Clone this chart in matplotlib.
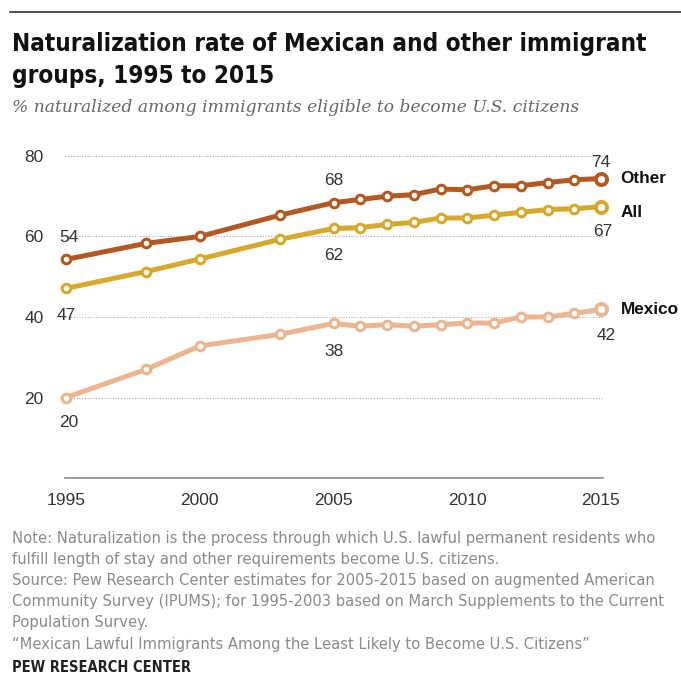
import matplotlib.pyplot as plt
from matplotlib.lines import Line2D

years = [1995, 1998, 2000, 2003, 2005, 2006, 2007, 2008, 2009, 2010, 2011, 2012, 2013, 2014, 2015]
other = [54.3, 58.3, 60.0, 65.3, 68.4, 69.2, 70.0, 70.4, 71.8, 71.6, 72.6, 72.6, 73.4, 74.1, 74.4]
all_groups = [47.1, 51.3, 54.4, 59.3, 62.0, 62.2, 63.0, 63.5, 64.6, 64.6, 65.3, 66.0, 66.7, 66.9, 67.4]
mexico = [20.0, 27.0, 32.8, 35.7, 38.4, 37.7, 38.1, 37.7, 38.1, 38.5, 38.5, 40.0, 40.0, 40.9, 41.9]

series_names = ["Other", "All", "Mexico"]
series_colors = ["#b3591f", "#d6a92c", "#ebb58f"]
y_ticks = [20, 40, 60, 80]
x_ticks = [1995, 2000, 2005, 2010, 2015]

W, H = 681, 677
fig = plt.figure(figsize=(W / 100, H / 100), dpi=100)

# axes in pixel coords: left 66, right 601, y=0 at 478, y=80 at 156
ax = fig.add_axes([66 / W, 1 - 478 / H, (601 - 66) / W, (478 - 156) / H])
ax.set_xlim(1995, 2015)
ax.set_ylim(0, 80)

for vals, col in zip([other, all_groups, mexico], series_colors):
    ax.plot(years, vals, color=col, lw=3.6, solid_capstyle="round", zorder=3, clip_on=False)
    ax.plot(years[:-1], vals[:-1], ls="none", marker="o", ms=6.2, mfc="white", mec=col, mew=2.2,
            zorder=4, clip_on=False)
    ax.plot(years[-1:], vals[-1:], ls="none", marker="o", ms=8, mfc="white", mec=col, mew=2.8,
            zorder=4, clip_on=False)

for y in y_ticks:
    ax.axhline(y, xmin=-0.002, xmax=1.004, color="#aaaaaa", lw=0.8, ls=(0, (1, 1.5)), zorder=1,
               clip_on=False)
ax.axhline(0, xmin=-0.002, xmax=1.004, color="#8a8a8a", lw=1.2, zorder=2, clip_on=False)

for s in ax.spines.values():
    s.set_visible(False)
ax.set_xticks(x_ticks)
ax.set_xticklabels([str(x) for x in x_ticks])
ax.set_yticks(y_ticks)
ax.set_yticklabels([str(y) for y in y_ticks])
ax.tick_params(length=0, labelsize=12.5, colors="#333333", pad=11)
ax.tick_params(axis="y", pad=16)
for lab in ax.get_xticklabels() + ax.get_yticklabels():
    lab.set_fontfamily("Liberation Sans")

# data labels: (series, index, dx, dy) offsets in points
lab_kw = dict(fontsize=12.5, color="#333333", family="Liberation Sans", ha="center", va="center",
              textcoords="offset points")
label_spots = [
    (other, 0, 2, 16), (all_groups, 0, 0, -19.5), (mexico, 0, 2, -18),
    (other, 4, 0, 16), (all_groups, 4, 0, -19.5), (mexico, 4, 0, -20),
    (other, -1, 0, 11.5), (all_groups, -1, 1, -18), (mexico, -1, 3.5, -19),
]
for vals, i, dx, dy in label_spots:
    ax.annotate(str(round(vals[i])), (years[i], vals[i]), xytext=(dx, dy), **lab_kw)

# series names
name_dy = [0, -4, 0]
for vals, name, dy in zip([other, all_groups, mexico], series_names, name_dy):
    ax.annotate(name, (years[-1], vals[-1]), xytext=(14, dy), textcoords="offset points",
                fontsize=12.3, fontweight="bold", color="#111111", family="Liberation Sans",
                ha="left", va="center")

# header
fig.add_artist(Line2D([10 / W, 1], [1 - 12 / H, 1 - 12 / H], color="#333333", lw=1.2))
fig.text(12 / W, 1 - 60 / H, "Naturalization rate of Mexican and other immigrant\ngroups, 1995 to 2015",
         fontsize=17.4, fontweight="bold", fontstretch="condensed", color="#111111",
         family="DejaVu Sans", ha="left", va="center", linespacing=1.42)
fig.text(12 / W, 1 - 108 / H, "% naturalized among immigrants eligible to become U.S. citizens",
         fontsize=12.3, style="italic", color="#666666", family="DejaVu Serif",
         ha="left", va="center")

notes = [
    "Note: Naturalization is the process through which U.S. lawful permanent residents who",
    "fulfill length of stay and other requirements become U.S. citizens.",
    "Source: Pew Research Center estimates for 2005-2015 based on augmented American",
    "Community Survey (IPUMS); for 1995-2003 based on March Supplements to the Current",
    "Population Survey.",
    "\u201cMexican Lawful Immigrants Among the Least Likely to Become U.S. Citizens\u201d",
]
for i, line in enumerate(notes):
    fig.text(12 / W, 1 - (538 + i * 21.2) / H, line, fontsize=11.8, fontstretch="condensed",
             color="#8a8a8a", family="DejaVu Sans", ha="left", va="center")
fig.text(12 / W, 1 - 668 / H, "PEW RESEARCH CENTER", fontsize=10.5, fontweight="bold",
         fontstretch="condensed", color="#222222", family="DejaVu Sans", ha="left", va="center")

fig.savefig("out.png", dpi=100, facecolor="white")
